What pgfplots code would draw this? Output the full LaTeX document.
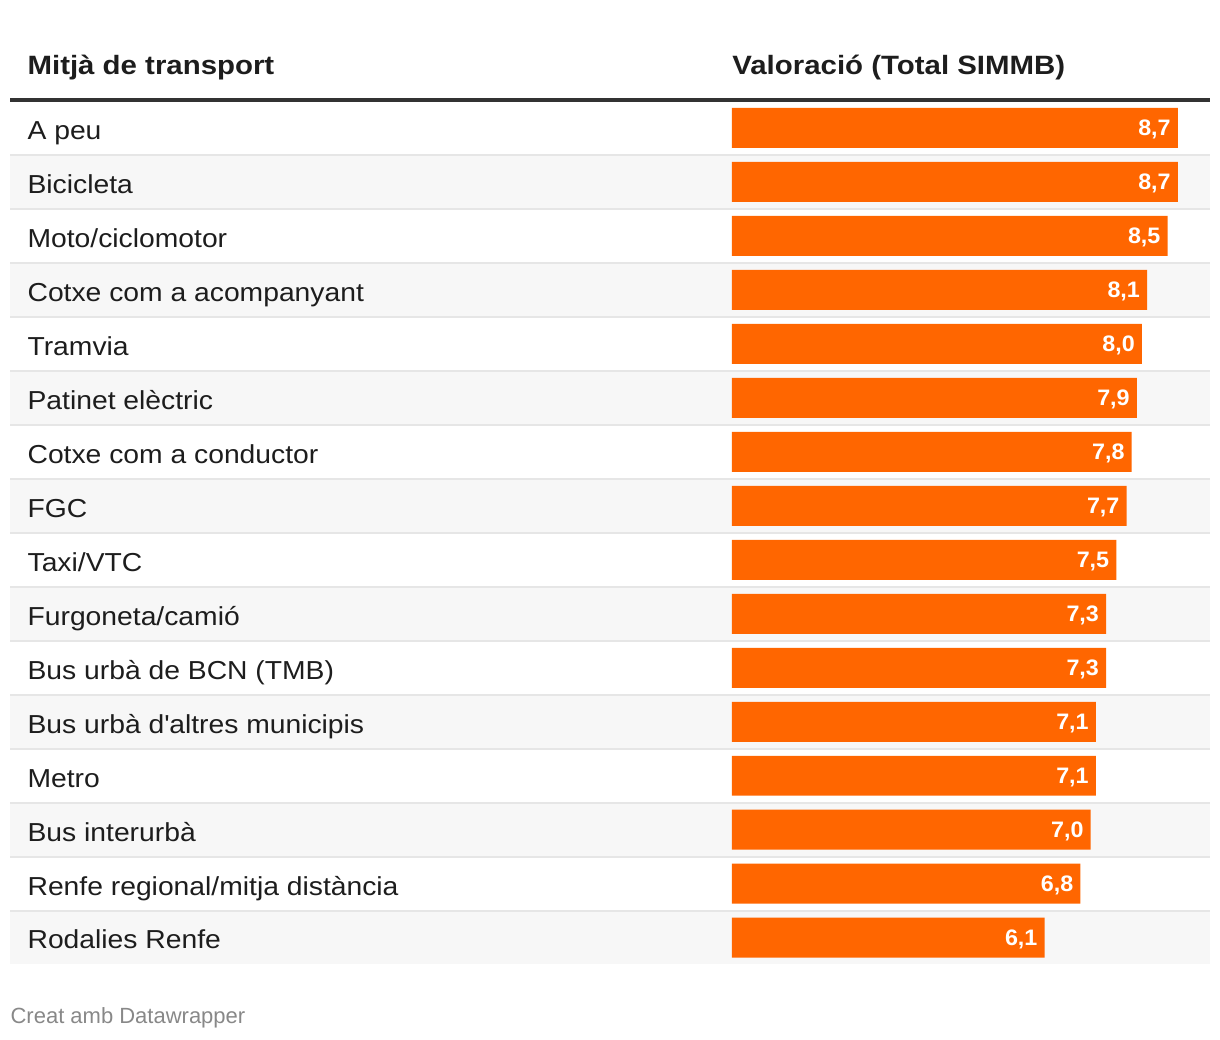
\documentclass[border=0pt]{standalone}
\usepackage{fontspec}
\setmainfont{Liberation Sans}
\newfontfamily\bodyf{Liberation Sans}[FakeStretch=1.088]
\newfontfamily\headf{Liberation Sans}[FakeStretch=1.11]
\newfontfamily\valf{Liberation Sans}[FakeStretch=1.04]
\usepackage{pgfplots}
\pgfplotsset{compat=1.18}
\definecolor{barorange}{HTML}{FF6600}
\definecolor{rowgray}{HTML}{F7F7F7}
\definecolor{sepgray}{HTML}{E6E6E6}
\definecolor{headline}{HTML}{333333}
\definecolor{txt}{HTML}{1D1D1D}
\definecolor{foot}{HTML}{888888}
\def\PX#1{((#1-732)/51.264)}
\begin{document}
\begin{tikzpicture}
\begin{axis}[
  set layers,
  scale only axis, width=610pt, height=520pt,
  xmin=-14.279, xmax=9.519, ymin=0, ymax=1040, y dir=reverse,
  axis line style={draw=none}, major tick length=0pt,
  xtick=\empty,
  ytick={128,182,236,290,344,398,452,506,560,614,668,722,776,830,884,938},
  yticklabels={A peu,Bicicleta,Moto/ciclomotor,Cotxe com a acompanyant,Tramvia,Patinet elèctric,Cotxe com a conductor,FGC,Taxi/VTC,Furgoneta/camió,Bus urbà de BCN (TMB),Bus urbà d\textquotesingle altres municipis,Metro,Bus interurbà,Renfe regional/mitja distància,Rodalies Renfe},
  yticklabel style={anchor=base west, inner sep=0pt, xshift=13.5pt, yshift=-5.65pt, font=\bodyf\fontsize{13}{15}\selectfont, text=txt},
  clip=false,
  xbar, bar width=40,
  point meta=x,
  nodes near coords={\pgfmathprintnumber[fixed,fixed zerofill,precision=1,use comma,assume math mode=true]{\pgfplotspointmeta}},
  nodes near coords style={anchor=base east, inner sep=0pt, xshift=-3.4pt, yshift=-4pt, text=white, font=\valf\fontsize{11.2}{13}\selectfont\bfseries},
]
\begin{pgfonlayer}{axis background}
\path (axis cs:-14.279,0) rectangle (axis cs:9.519,1040);
\pgfplotsinvokeforeach{2,4,6,8,10,12,14,16}{
  \fill[rowgray] (axis cs:{\PX{10}},{156+54*(#1-2)}) rectangle (axis cs:{\PX{1210}},{208+54*(#1-2)});
}
\pgfplotsinvokeforeach{1,2,3,4,5,6,7,8,9,10,11,12,13,14,15}{
  \draw[sepgray, line width=1pt] (axis cs:{\PX{10}},{155+54*(#1-1)}) -- (axis cs:{\PX{1210}},{155+54*(#1-1)});
}
\draw[headline, line width=1.8pt] (axis cs:{\PX{10}},99.8) -- (axis cs:{\PX{1210}},99.8);
\end{pgfonlayer}
\addplot[draw=none, fill=barorange] coordinates {
(8.7,128) (8.7,182) (8.5,236) (8.1,290) (8.0,344) (7.9,398) (7.8,452) (7.7,506)
(7.5,560) (7.3,614) (7.3,668) (7.1,722) (7.1,776) (7.0,830) (6.8,884) (6.1,938)
};
\node[anchor=base west, inner sep=0pt, text=txt, font=\headf\fontsize{13.25}{15}\selectfont\bfseries] at (axis cs:{\PX{27}},74.3) {Mitjà de transport};
\node[anchor=base west, inner sep=0pt, text=txt, font=\headf\fontsize{13.25}{15}\selectfont\bfseries] at (axis cs:{\PX{732}},74.3) {Valoració (Total SIMMB)};
\node[anchor=base west, inner sep=0pt, text=foot, font=\fontsize{11}{13}\selectfont] at (axis cs:{\PX{10}},1024) {Creat amb Datawrapper};
\end{axis}
\end{tikzpicture}
\end{document}
